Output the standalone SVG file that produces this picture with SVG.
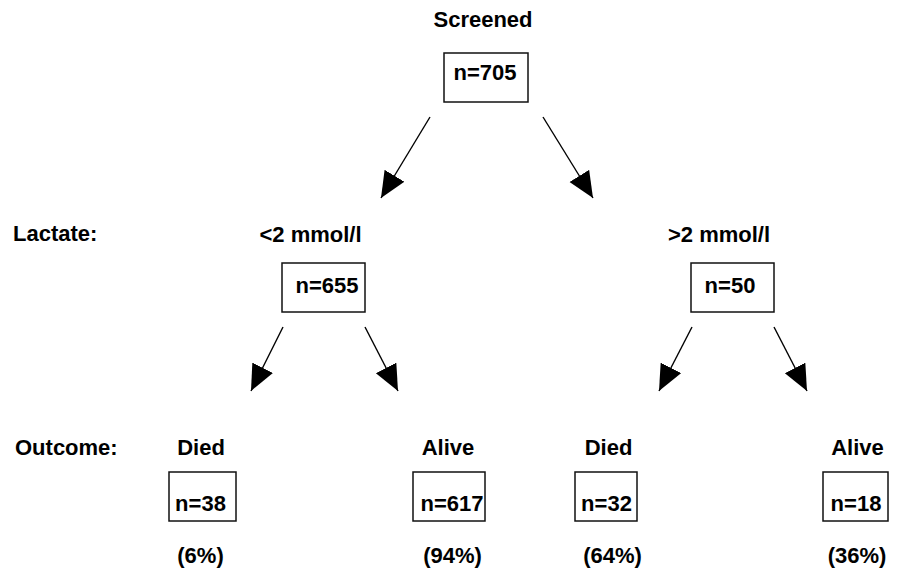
<svg xmlns="http://www.w3.org/2000/svg" width="903" height="569" viewBox="0 0 903 569">
<defs>
<style>
text{font-family:"Liberation Sans",Arial,sans-serif;font-weight:bold;font-size:22px;fill:#000}
.c{text-anchor:middle}
.box{fill:#fff;stroke:#111;stroke-width:1.5}
line{stroke:#000;stroke-width:1.4}
</style>
<marker id="ah" markerUnits="userSpaceOnUse" markerWidth="27" markerHeight="24" refX="26" refY="11.5" orient="auto" viewBox="0 0 27 24">
<path d="M0,0 L26,11.5 L0,23 z" fill="#000"/>
</marker>
</defs>
<rect width="903" height="569" fill="#fff"/>
<g id="row-labels">
<text x="13" y="241">Lactate:</text>
<text x="15" y="455">Outcome:</text>
</g>
<g id="screened">
<text class="c" x="483" y="27">Screened</text>
<rect class="box" x="444" y="53" width="84" height="49"/>
<text class="c" x="485" y="80">n=705</text>
</g>
<g id="low-lactate">
<text class="c" x="310.5" y="242">&lt;2 mmol/l</text>
<rect class="box" x="282" y="263" width="83" height="49"/>
<text class="c" x="327" y="293">n=655</text>
</g>
<g id="high-lactate">
<text class="c" x="719" y="242">&gt;2 mmol/l</text>
<rect class="box" x="691" y="263" width="83" height="49"/>
<text class="c" x="730" y="293">n=50</text>
</g>
<g id="low-died">
<text class="c" x="201" y="455">Died</text>
<rect class="box" x="169" y="472" width="67" height="49"/>
<text class="c" x="200.5" y="511">n=38</text>
<text class="c" x="200.5" y="563">(6%)</text>
</g>
<g id="low-alive">
<text class="c" x="448" y="455">Alive</text>
<rect class="box" x="413" y="472" width="72" height="49"/>
<text class="c" x="452" y="511">n=617</text>
<text class="c" x="452.5" y="563">(94%)</text>
</g>
<g id="high-died">
<text class="c" x="608.5" y="455">Died</text>
<rect class="box" x="575" y="472" width="62" height="49"/>
<text class="c" x="606.5" y="511">n=32</text>
<text class="c" x="612.5" y="563">(64%)</text>
</g>
<g id="high-alive">
<text class="c" x="857.5" y="455">Alive</text>
<rect class="box" x="823" y="472" width="65" height="49"/>
<text class="c" x="856" y="511">n=18</text>
<text class="c" x="857" y="563">(36%)</text>
</g>
<g id="connectors">
<line x1="430" y1="117" x2="381" y2="198" marker-end="url(#ah)"/>
<line x1="543" y1="117" x2="593" y2="198" marker-end="url(#ah)"/>
<line x1="283" y1="327" x2="251" y2="391" marker-end="url(#ah)"/>
<line x1="365" y1="327" x2="398" y2="391" marker-end="url(#ah)"/>
<line x1="692" y1="327" x2="659" y2="391" marker-end="url(#ah)"/>
<line x1="774" y1="327" x2="807" y2="391" marker-end="url(#ah)"/>
</g>
</svg>
